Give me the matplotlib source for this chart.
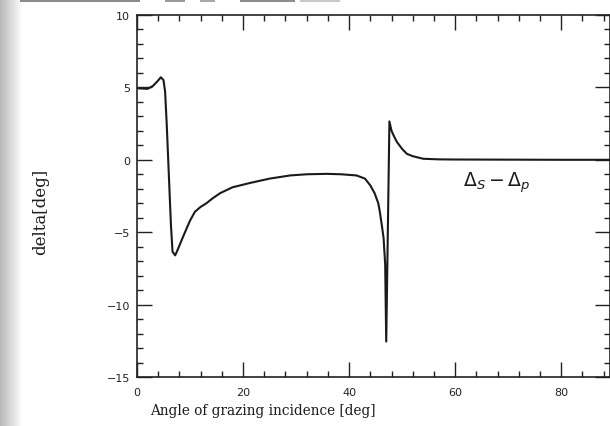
import numpy as np
import matplotlib
matplotlib.use("Agg")
import matplotlib.pyplot as plt
from matplotlib.ticker import MultipleLocator

# Data
angle = [0, 1, 2, 3, 3.8, 4.5, 5.0, 5.3, 5.6, 6.0, 6.4, 6.7, 7.2, 7.8, 8.7,
         10.0, 10.9, 12.0, 13.1, 14.3, 15.7, 18, 21.3, 25, 28.9, 32, 35.8,
         38.5, 41.4, 43, 44, 44.8, 45.5, 45.8, 46.2, 46.5, 46.8, 47.0, 47.3,
         47.6, 48.0, 48.5, 49.0, 50, 50.9, 52, 54, 57, 60, 70, 80, 90]
delta = [4.94, 4.92, 4.9, 5.1, 5.4, 5.7, 5.5, 4.7, 2.5, -1.0, -4.5, -6.35,
         -6.6, -6.1, -5.3, -4.2, -3.6, -3.25, -3.0, -2.65, -2.3, -1.9, -1.6,
         -1.3, -1.08, -1.0, -0.97, -1.0, -1.08, -1.3, -1.77, -2.3, -3.0, -3.6,
         -4.6, -5.4, -7.2, -12.55, -5.0, 2.65, 2.0, 1.6, 1.24, 0.75, 0.41,
         0.25, 0.07, 0.03, 0.02, 0.01, 0.0, 0.0]
x_ticks = [0, 20, 40, 60, 80]
y_ticks = [-15, -10, -5, 0, 5, 10]
y_tick_labels = ["\u221215", "\u221210", "\u22125", "0", "5", "10"]

fig = plt.figure(figsize=(6.1, 4.27), dpi=100)

# scanned-slide background: grey gradient at the left edge, faint marks on top
bg = fig.add_axes([0, 0, 1, 1], zorder=-1)
w = np.clip(np.arange(610) / 22.0, 0, 1)
grad = np.ones((10, 610)) * (0.72 + 0.28 * w)
bg.imshow(grad, cmap="gray", vmin=0, vmax=1, aspect="auto",
          extent=[0, 1, 0, 1])
for x0, x1, c in [(20, 140, "#8c8c8c"), (165, 185, "#9a9a9a"),
                  (200, 215, "#a8a8a8"), (240, 295, "#8c8c8c"),
                  (300, 340, "#c8c8c8")]:
    bg.axhspan(1 - 3 / 427, 1.0, xmin=x0 / 610, xmax=x1 / 610, color=c, lw=0)
bg.set_xlim(0, 1)
bg.set_ylim(0, 1)
bg.axis("off")

ax = fig.add_axes([137 / 610, 1 - 378 / 427, 1 - 137 / 610, (378 - 16) / 427])
ax.plot(angle, delta, color="#1a1a1a", lw=1.5)
ax.set_xlim(0, 89.2)
ax.set_ylim(-15, 10)
ax.set_xticks(x_ticks)
ax.set_yticks(y_ticks)
ax.set_yticklabels(y_tick_labels)
ax.xaxis.set_minor_locator(MultipleLocator(4))
ax.yaxis.set_minor_locator(MultipleLocator(1))
ax.tick_params(which="both", direction="in", top=True, right=True,
               color="#222222", labelsize=8, labelcolor="#222222")
ax.tick_params(which="major", length=11, width=1.0)
ax.tick_params(axis="x", which="major", pad=7)
ax.tick_params(axis="y", which="major", pad=5)
ax.tick_params(which="minor", length=4.5, width=1.0)
for s in ax.spines.values():
    s.set_linewidth(1.2)
    s.set_color("#222222")
ax.patch.set_alpha(0)

ax.set_xlabel("Angle of grazing incidence [deg]", family="DejaVu Serif",
              fontsize=9.8, color="#1a1a1a")
ax.xaxis.set_label_coords((150 - 137) / 473, -0.072)
ax.xaxis.label.set_horizontalalignment("left")
ax.set_ylabel("delta[deg]", family="DejaVu Serif", fontsize=12,
              color="#1a1a1a")
ax.yaxis.set_label_coords(-(137 - 49) / 473, (378 - 212) / 362)

ax.text(61.5, -1.5, r"$\Delta_S - \Delta_p$", fontsize=13.5, color="#1a1a1a",
        va="center", ha="left")

fig.savefig("out.png", dpi=100)
